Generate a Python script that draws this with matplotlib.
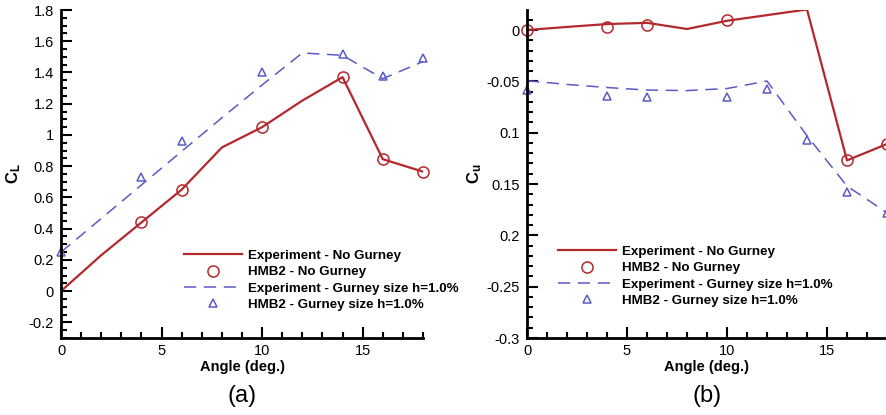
import matplotlib
matplotlib.use('Agg')
import matplotlib.pyplot as plt
from matplotlib.ticker import MultipleLocator

plt.rcParams['font.family'] = ['Liberation Sans', 'DejaVu Sans']
plt.rcParams['mathtext.fontset'] = 'custom'
plt.rcParams['mathtext.rm'] = 'Liberation Sans'
plt.rcParams['mathtext.bf'] = 'Liberation Sans:bold'

# data (a): lift coefficient
exp_angle = [0, 2, 4, 6, 8, 10, 12, 14, 16, 18]
cl_exp_clean = [0, 0.23, 0.44, 0.65, 0.92, 1.05, 1.22, 1.37, 0.845, 0.765]
cl_exp_gurney = [0.25, 0.465, 0.68, 0.895, 1.11, 1.32, 1.525, 1.51, 1.36, 1.47]

hmb_angle_clean = [4, 6, 10, 14, 16, 18]
cl_hmb_clean = [0.44, 0.65, 1.05, 1.37, 0.845, 0.765]
hmb_angle_gurney = [0, 4, 6, 10, 14, 16, 18]
cl_hmb_gurney = [0.25, 0.73, 0.96, 1.40, 1.52, 1.38, 1.49]

# data (b): moment coefficient
cu_exp_clean = [0, 0.003, 0.0058, 0.007, 0.001, 0.009, 0.0145, 0.020, -0.127, -0.111]
cu_exp_gurney = [-0.0494, -0.053, -0.056, -0.0585, -0.059, -0.057, -0.0497, -0.103, -0.152, -0.178]
hmb_angle_clean_b = [0, 4, 6, 10, 16, 18]
cu_hmb_clean = [0, 0.0026, 0.0049, 0.0097, -0.127, -0.111]
hmb_angle_gurney_b = [0, 4, 6, 10, 12, 14, 16, 18]
cu_hmb_gurney = [-0.058, -0.064, -0.065, -0.065, -0.057, -0.107, -0.158, -0.178]

cl_ticks = [-0.2, 0, 0.2, 0.4, 0.6, 0.8, 1, 1.2, 1.4, 1.6, 1.8]
cl_ticklabels = ['-0.2', '0', '0.2', '0.4', '0.6', '0.8', '1', '1.2', '1.4', '1.6', '1.8']
cu_ticks = [0, -0.05, -0.1, -0.15, -0.2, -0.25, -0.3]
cu_ticklabels = ['0', '-0.05', '0.1', '0.15', '0.2', '-0.25', '-0.3']

labels = ['Experiment - No Gurney', 'HMB2 - No Gurney',
          'Experiment - Gurney size h=1.0%', 'HMB2 - Gurney size h=1.0%']

red = '#b3282d'
blue = '#5a5ac8'

W, H = 886, 415
fig = plt.figure(figsize=(W / 100, H / 100), dpi=100)
ax1 = fig.add_axes([61 / W, 1 - 338 / H, 362 / W, 328 / H])
ax2 = fig.add_axes([527 / W, 1 - 338 / H, 360 / W, 328 / H])


def style(ax):
    for s in ['top', 'right']:
        ax.spines[s].set_visible(False)
    for s in ['left', 'bottom']:
        ax.spines[s].set_linewidth(2)
    ax.tick_params(which='both', direction='in', width=1.5, labelsize=10.5, colors='black')
    ax.tick_params(which='major', length=8)
    ax.tick_params(which='minor', length=4)
    ax.tick_params(axis='y', pad=5)
    ax.tick_params(axis='x', pad=4)
    ax.set_xlim(0, 18)
    ax.set_xticks([0, 5, 10, 15])
    ax.xaxis.set_minor_locator(MultipleLocator(1))
    ax.set_xlabel('Angle (deg.)', fontsize=10.5, fontweight='bold', labelpad=2)


def draw(ax, ye, yeg, xh, yh, xhg, yhg):
    l1, = ax.plot(exp_angle, ye, color=red, lw=1.6)
    l2, = ax.plot(xh, yh, ls='none', marker='o', ms=8, mfc='none', mec=red, mew=1.1,
                  clip_on=False)
    l3, = ax.plot(exp_angle, yeg, color=blue, lw=1.1, dashes=(8, 5))
    l4, = ax.plot(xhg, yhg, ls='none', marker='^', ms=6, mfc='none', mec=blue, mew=1.1,
                  clip_on=False)
    return [l1, l2, l3, l4]


leg_kw = dict(bbox_transform=fig.transFigure, frameon=False, borderpad=0,
              handlelength=4.4, handletextpad=0.45, labelspacing=0.3,
              prop={'weight': 'bold', 'size': 9.6}, loc='upper left')

h1 = draw(ax1, cl_exp_clean, cl_exp_gurney, hmb_angle_clean, cl_hmb_clean,
          hmb_angle_gurney, cl_hmb_gurney)
style(ax1)
ax1.set_ylim(-0.3, 1.8)
ax1.set_yticks(cl_ticks)
ax1.set_yticklabels(cl_ticklabels)
ax1.yaxis.set_minor_locator(MultipleLocator(0.05))
ax1.set_ylabel(r'$\mathbf{C_L}$', fontsize=12, labelpad=4)
ax1.legend(h1, labels, bbox_to_anchor=(177 / W, 1 - 243 / H), **leg_kw)

h2 = draw(ax2, cu_exp_clean, cu_exp_gurney, hmb_angle_clean_b, cu_hmb_clean,
          hmb_angle_gurney_b, cu_hmb_gurney)
style(ax2)
ax2.set_ylim(-0.3, 0.0195)
ax2.set_yticks(cu_ticks)
ax2.set_yticklabels(cu_ticklabels)
ax2.yaxis.set_minor_locator(MultipleLocator(0.01))
ax2.set_ylabel(r'$\mathbf{C_u}$', fontsize=12, labelpad=2)
ax2.legend(h2, labels, bbox_to_anchor=(551 / W, 1 - 239 / H), **leg_kw)

fig.text(242 / W, 1 - 396 / H, '(a)', fontsize=17, ha='center', va='center')
fig.text(707 / W, 1 - 396 / H, '(b)', fontsize=17, ha='center', va='center')

fig.savefig('out.png', dpi=100)
